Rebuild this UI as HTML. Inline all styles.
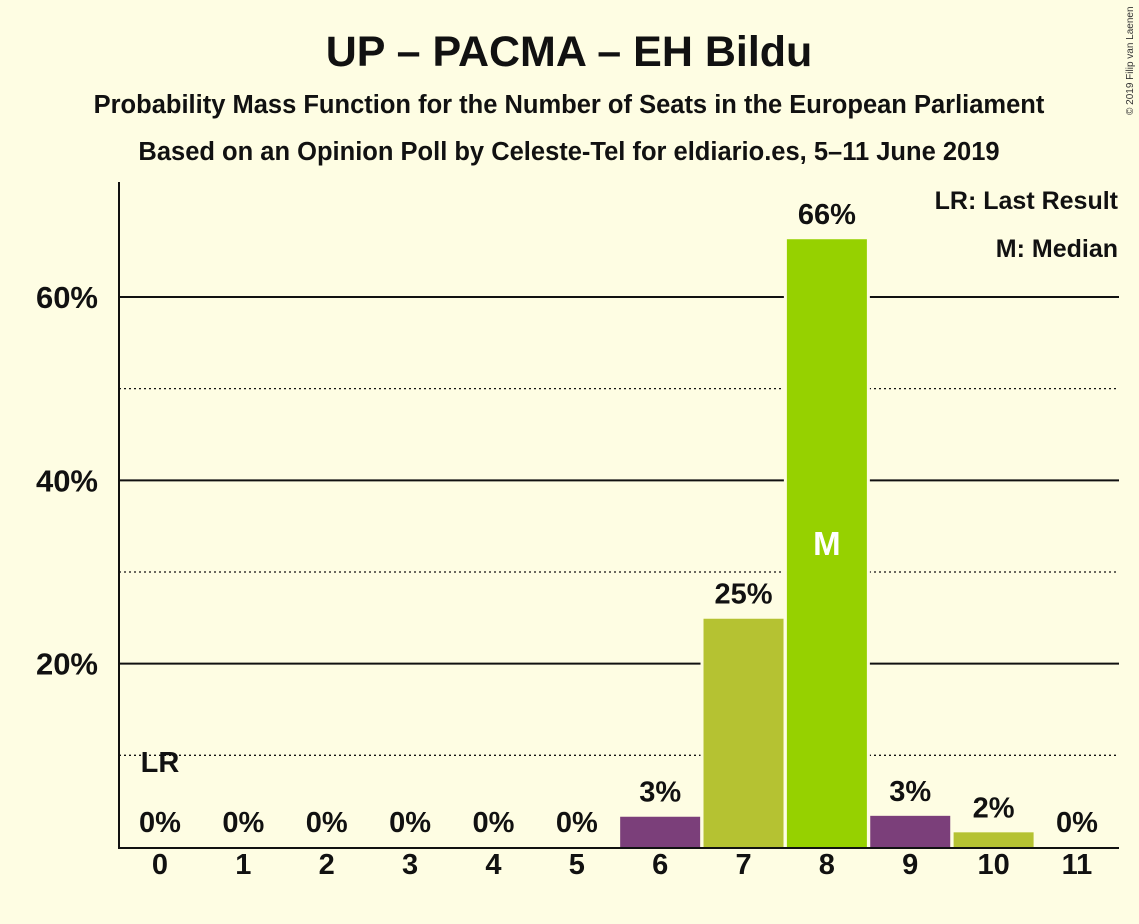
<!DOCTYPE html>
<html><head><meta charset="utf-8"><style>
body{margin:0;background:#fefde3;}
svg{display:block;font-family:"Liberation Sans",sans-serif;}
</style></head><body>
<svg id="c" width="1139" height="924">
<rect width="1139" height="924" fill="#fefde3"/>
<text x="569" y="66" text-anchor="middle" font-size="43" font-weight="bold" fill="#111">UP – PACMA – EH Bildu</text>
<text x="569" y="113" text-anchor="middle" font-size="25.5" font-weight="bold" fill="#111">Probability Mass Function for the Number of Seats in the European Parliament</text>
<text x="569" y="160" text-anchor="middle" font-size="25.5" font-weight="bold" fill="#111">Based on an Opinion Poll by Celeste-Tel for eldiario.es, 5–11 June 2019</text>
<text x="1133" y="115" font-size="10" fill="#333" transform="rotate(-90 1133 115)">© 2019 Filip van Laenen</text>
<g id="grid"></g><g id="bars"></g><g id="labels"></g>
<line x1="119" y1="182" x2="119" y2="848" stroke="#111" stroke-width="2"/>
<line x1="118" y1="848" x2="1119" y2="848" stroke="#111" stroke-width="2"/>
<text x="1118" y="209" text-anchor="end" font-size="25" font-weight="bold" fill="#111">LR: Last Result</text>
<text x="1118" y="257" text-anchor="end" font-size="25" font-weight="bold" fill="#111">M: Median</text>
</svg>
<script>
const seats=[0,1,2,3,4,5,6,7,8,9,10,11];
const probs=[0,0,0,0,0,0,3.3,24.9,66.3,3.4,1.6,0];
const valueLabels=["0%","0%","0%","0%","0%","0%","3%","25%","66%","3%","2%","0%"];
const colors=["#7b3f7a","#b5c232","#96d100","#7b3f7a","#b5c232","#96d100","#7b3f7a","#b5c232","#96d100","#7b3f7a","#b5c232","#96d100"];
const yTicks=[20,40,60];
const yMinor=[10,30,50];
const medianSeat=8, lastResultSeat=0;
const NS="http://www.w3.org/2000/svg";
const y=v=>847-v*9.167;
const x=s=>160+s*83.36;
function mk(tag,attrs,parent,txt){const e=document.createElementNS(NS,tag);for(const k in attrs)e.setAttribute(k,attrs[k]);if(txt!==undefined)e.textContent=txt;document.getElementById(parent).appendChild(e);return e;}
yMinor.forEach(v=>{const e=mk('line',{x1:119,x2:1119,y1:y(v),y2:y(v),stroke:'#111','stroke-width':1.3,'stroke-dasharray':'2,3'},'grid');

});
yTicks.forEach(v=>{const e=mk('line',{x1:119,x2:1119,y1:y(v),y2:y(v),stroke:'#111','stroke-width':2},'grid');


const t=mk('text',{x:98,y:y(v)+11,'text-anchor':'end','font-size':31,'font-weight':'bold',fill:'#111'},'labels',v+'%');

});
seats.forEach((s,i)=>{
 if(probs[i]>0){
 const bg=mk('rect',{x:x(s)-43,y:y(probs[i])-2,width:86,height:849-y(probs[i]),fill:'#fefde3'},'bars');
 
 
 const r=mk('rect',{x:x(s)-40,y:y(probs[i]),width:80,height:847-y(probs[i]),fill:colors[i]},'bars');
 
 }
 const vl=mk('text',{x:x(s),y:Math.min(y(probs[i]),847)-15,'text-anchor':'middle','font-size':29,'font-weight':'bold',fill:'#111'},'labels',valueLabels[i]);
 
 
 const xl=mk('text',{x:x(s),y:874,'text-anchor':'middle','font-size':29,'font-weight':'bold',fill:'#111'},'labels',String(s));
 
 
});
const m=mk('text',{x:x(medianSeat),y:y(probs[medianSeat]/2)+12,'text-anchor':'middle','font-size':33,'font-weight':'bold',fill:'#fff'},'labels','M');


const lr=mk('text',{x:x(lastResultSeat),y:772,'text-anchor':'middle','font-size':29,'font-weight':'bold',fill:'#111'},'labels','LR');


</script>
</body></html>
